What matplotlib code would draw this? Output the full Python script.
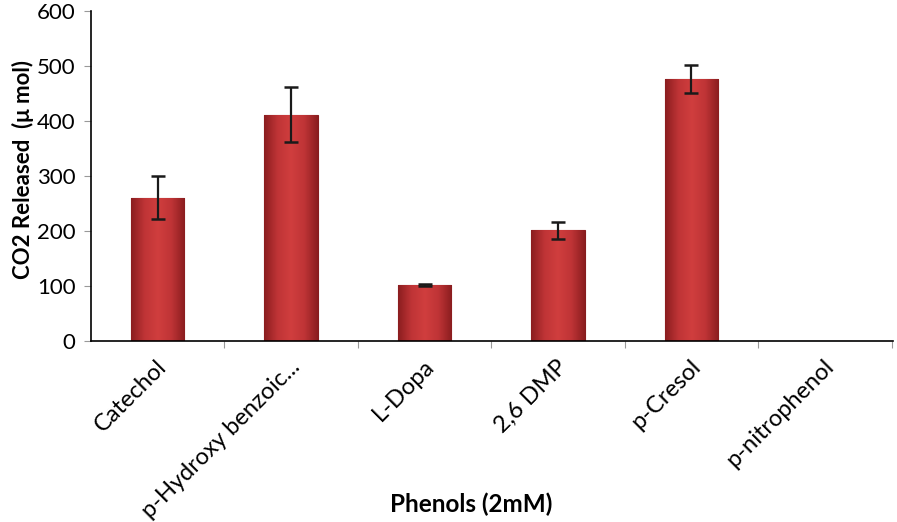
import matplotlib.pyplot as plt
import matplotlib.transforms as mtransforms
import numpy as np
from matplotlib.colors import LinearSegmentedColormap

plt.rcParams['font.family'] = ['Lato', 'DejaVu Sans']

# Data
phenols = ["Catechol", "p-Hydroxy benzoic...", "L-Dopa", "2,6 DMP", "p-Cresol", "p-nitrophenol"]
co2_released = [260, 411, 102, 201, 476, 0]
co2_error = [39, 50, 2, 15, 26, 0]


def main():
    fig = plt.figure(figsize=(8.97, 5.22), dpi=100)
    ax = fig.add_axes([0.1014, 0.3467, 0.8941, 0.633])

    x = np.arange(len(phenols))
    bars = ax.bar(x, co2_released, width=0.40, color='#C2383A',
                  edgecolor='#861C1E', linewidth=0.8, zorder=2)

    # Shaded look of the bars: dark at the sides, lighter in the middle
    shade = LinearSegmentedColormap.from_list(
        'shade', ['#8A1D1F', '#BF3436', '#D03E3E', '#BF3436', '#8A1D1F'])
    grad = np.linspace(0, 1, 256).reshape(1, -1)
    for bar in bars:
        if bar.get_height() <= 0:
            continue
        x0, w, h = bar.get_x(), bar.get_width(), bar.get_height()
        im = ax.imshow(grad, cmap=shade, aspect='auto', zorder=2.5,
                       extent=[x0, x0 + w, 0, h], interpolation='bicubic')
        im.set_clip_path(bar)

    ax.errorbar(x[:5], co2_released[:5], yerr=co2_error[:5], fmt='none',
                ecolor='#1a1a1a', elinewidth=1.6, capsize=5, capthick=1.8,
                zorder=3)

    ax.set_xlim(-0.5, len(phenols) - 0.5 + 0.01)
    ax.set_ylim(0, 600)
    ax.set_yticks(range(0, 601, 100))

    # Category boundary ticks on x axis
    ax.set_xticks(np.arange(len(phenols)) + 0.5, minor=False)
    ax.set_xticklabels([])
    ax.set_xticks(x, minor=True)
    ax.set_xticklabels(phenols, minor=True, rotation=45, ha='right',
                       va='center', rotation_mode='anchor', fontsize=17)
    ax.tick_params(axis='x', which='minor', length=0, pad=16)
    ax.tick_params(axis='x', which='major', length=5, color='#999999')
    ax.tick_params(axis='y', length=5, color='#999999', labelsize=16, pad=6)

    shift = mtransforms.ScaledTranslation(6 / 100, 0, fig.dpi_scale_trans)
    for lbl in ax.get_xticklabels(minor=True):
        lbl.set_transform(lbl.get_transform() + shift)

    ax.spines['top'].set_visible(False)
    ax.spines['right'].set_visible(False)
    ax.spines['left'].set_linewidth(1.2)
    ax.spines['bottom'].set_linewidth(1.2)

    ax.set_xlabel("Phenols (2mM)", fontsize=17.5, fontweight='bold')
    ax.xaxis.set_label_coords(0.474, -0.46)
    ax.set_ylabel("CO2 Released  (\u03bc mol)", fontsize=16, fontweight='bold')
    ax.yaxis.set_label_coords(-0.071, 0.52)

    fig.savefig("out.png", dpi=100)


if __name__ == '__main__':
    main()
